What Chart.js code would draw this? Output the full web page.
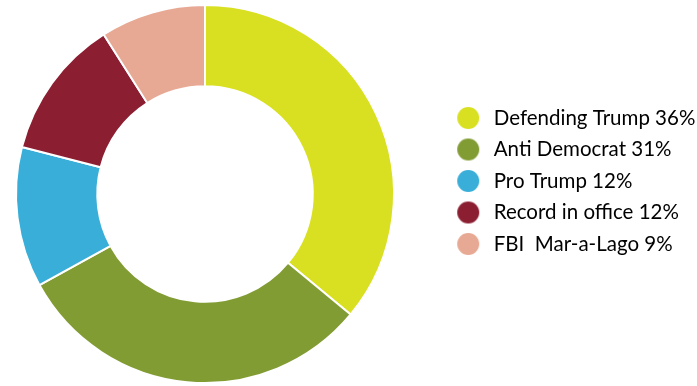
<!DOCTYPE html>
<html>
<head>
<meta charset="utf-8">
<script src="https://cdn.jsdelivr.net/npm/chart.js@4"></script>
<style>
  body { margin: 0; background: #fff; }
  #wrap { width: 697px; height: 386px; }
</style>
</head>
<body>
<div id="wrap"><canvas id="Chart"></canvas></div>
<script>
const labels = ['Defending Trump 36%', 'Anti Democrat 31%', 'Pro Trump 12%', 'Record in office 12%', 'FBI  Mar-a-Lago 9%'];
const shares = [36, 31, 12, 12, 9];
const colors = ['#d9e021', '#829c34', '#38aed8', '#8b1f31', '#e7a994'];

// legend dot, drawn a bit left of the box centre so the gap to the text matches
function makeDot(color) {
    const c = document.createElement('canvas');
    c.width = 34;
    c.height = 24;
    const g = c.getContext('2d');
    g.fillStyle = color;
    g.beginPath();
    g.arc(12, 12, 11, 0, Math.PI * 2);
    g.fill();
    return c;
}
const dots = colors.map(makeDot);

// pie on the left half, legend a bit above the middle
const nudge = {
    id: 'nudge',
    afterLayout(chart) {
        const lg = chart.legend;
        const dx = 452 - lg.left;
        lg.left += dx;
        lg.right += dx;
        lg.top -= 13;
        lg.bottom -= 13;
        chart.chartArea.left = 0;
        chart.chartArea.right = 410;
        chart.chartArea.width = 410;
    }
};

const ctx = document.getElementById('Chart').getContext('2d');
const chart = new Chart(ctx, {
    type: 'doughnut',
    data: {
        labels: labels,
        datasets: [{
            data: shares,
            backgroundColor: colors,
            borderColor: '#ffffff',
            borderWidth: 2
        }]
    },
    options: {
        responsive: true,
        maintainAspectRatio: false,
        animation: false,
        cutout: '57%',
        layout: {
            padding: { top: 4, bottom: 2 }
        },
        plugins: {
            tooltip: { enabled: false },
            legend: {
                position: 'right',
                labels: {
                    usePointStyle: true,
                    padding: 11,
                    color: '#231f20',
                    font: { family: 'Lato', size: 20.5 },
                    generateLabels: (c) => labels.map((t, i) => ({
                        text: t,
                        fillStyle: colors[i],
                        strokeStyle: colors[i],
                        lineWidth: 0,
                        pointStyle: dots[i],
                        hidden: false,
                        index: i
                    }))
                }
            }
        }
    },
    plugins: [nudge]
});
</script>
</body>
</html>
